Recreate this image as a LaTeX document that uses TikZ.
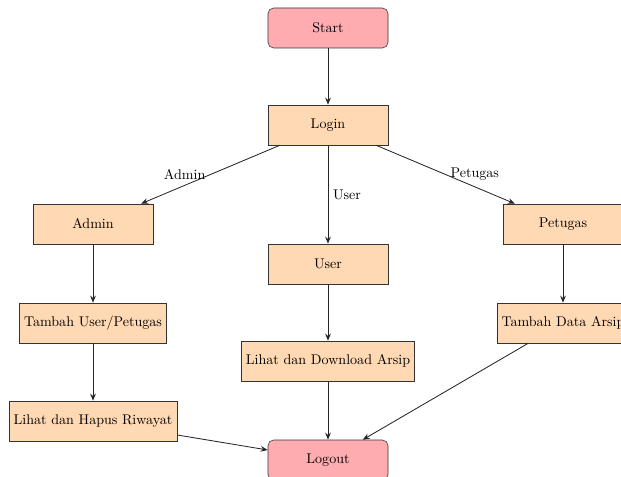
\documentclass[tikz,border=0pt]{standalone}
\usetikzlibrary{arrows.meta}
\definecolor{startpink}{RGB}{255,172,176}
\definecolor{procorange}{RGB}{255,217,179}
\tikzset{
  terminal/.style={draw=black!80, fill=startpink, rounded corners=4pt, minimum width=3cm, minimum height=1cm, align=center},
  procbox/.style={draw=black!80, fill=procorange, minimum width=3cm, minimum height=1cm, align=center},
  conn/.style={draw=black!85, -{Stealth[length=5pt,width=4pt]}, semithick}
}
\begin{document}
\begin{tikzpicture}
\useasboundingbox (0,0) rectangle (15.525,-11.925);
\node[terminal] (start) at (8.2,-0.7) {Start};
\node[procbox] (login) at (8.2,-3.125) {Login};
\node[procbox] (admin) at (2.325,-5.6) {Admin};
\node[procbox] (user) at (8.2,-6.6) {User};
\node[procbox] (petugas) at (14.075,-5.6) {Petugas};
\node[procbox] (tup) at (2.325,-8.075) {Tambah User/Petugas};
\node[procbox] (lda) at (8.2,-9.025) {Lihat dan Download Arsip};
\node[procbox] (tda) at (14.075,-8.075) {Tambah Data Arsip};
\node[procbox] (lhr) at (2.325,-10.525) {Lihat dan Hapus Riwayat};
\node[terminal] (logout) at (8.2,-11.5) {Logout};
\draw[conn] (start) -- (login);
\draw[conn] (login) -- node[midway,left] {Admin} (admin);
\draw[conn] (login) -- node[midway,right] {User} (user);
\draw[conn] (login) -- node[midway,right] {Petugas} (petugas);
\draw[conn] (admin) -- (tup);
\draw[conn] (tup) -- (lhr);
\draw[conn] (user) -- (lda);
\draw[conn] (petugas) -- (tda);
\draw[conn] (lhr) -- (logout);
\draw[conn] (lda) -- (logout);
\draw[conn] (tda) -- (logout);
\end{tikzpicture}
\end{document}
